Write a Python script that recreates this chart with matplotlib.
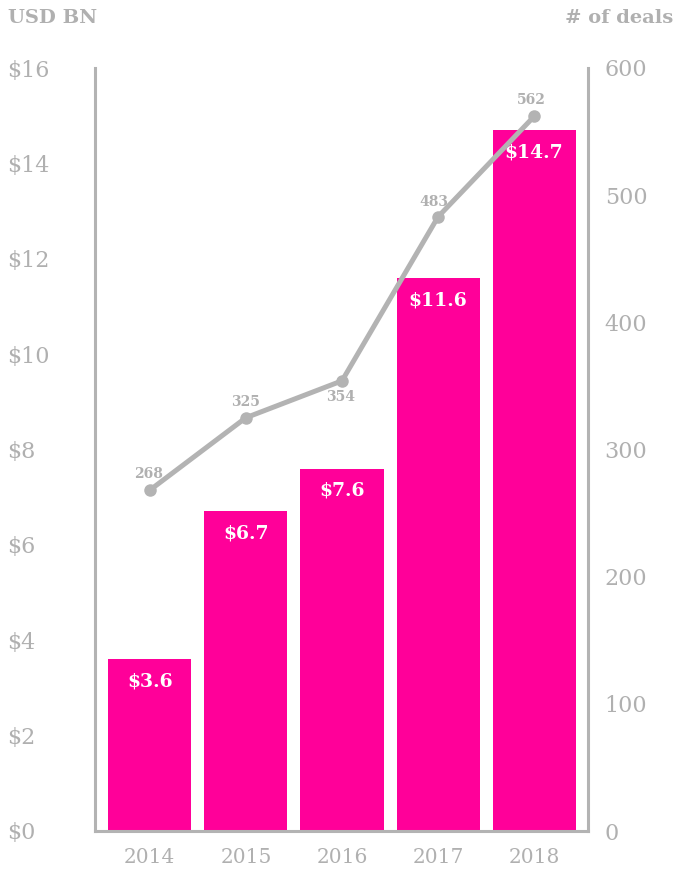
import matplotlib
matplotlib.use("Agg")
import matplotlib.pyplot as plt

years = ["2014", "2015", "2016", "2017", "2018"]
usd_bn = [3.6, 6.7, 7.6, 11.6, 14.7]
deals = [268, 325, 354, 483, 562]
usd_ticks = [0, 2, 4, 6, 8, 10, 12, 14, 16]
deal_ticks = [0, 100, 200, 300, 400, 500, 600]

pink = "#ff0099"
grey = "#b3b3b3"
txt = "#b0b0b0"
plt.rcParams["font.family"] = ["DejaVu Serif"]

fig = plt.figure(figsize=(6.75, 8.69), dpi=100)
ax = fig.add_axes([95 / 675, 1 - 831 / 869, 493 / 675, 763 / 869])
x = list(range(len(years)))

ax.bar(x, usd_bn, width=0.865, color=pink, zorder=1)
for xi, v in zip(x, usd_bn):
    ax.annotate(f"${v}", (xi, v), xytext=(0, -16), textcoords="offset points",
                ha="center", va="center", color="white", fontsize=13.5,
                fontweight="bold", zorder=5)

ax.set_xlim(-0.57, 4.56)
ax.set_ylim(0, 16)
ax.set_yticks(usd_ticks)
ax.set_yticklabels([f"${t}" for t in usd_ticks])
ax.set_xticks(x)
ax.set_xticklabels(years)
ax.tick_params(axis="y", length=0, pad=63, labelsize=16, labelcolor=txt)
ax.tick_params(axis="x", length=0, pad=12, labelsize=14.5, labelcolor=txt)
for lab in ax.get_yticklabels():
    lab.set_horizontalalignment("left")

for side in ["top", "right"]:
    ax.spines[side].set_visible(False)
for side in ["left", "bottom"]:
    ax.spines[side].set_color(grey)
    ax.spines[side].set_linewidth(2.2)

ax2 = ax.twinx()
ax2.plot(x, deals, color=grey, linewidth=3.6, marker="o", markersize=8,
         solid_capstyle="round", zorder=3)
ax2.set_ylim(0, 600)
ax2.set_yticks(deal_ticks)
ax2.tick_params(axis="y", length=0, pad=12, labelsize=16, labelcolor=txt)
for side in ["top", "left", "bottom"]:
    ax2.spines[side].set_visible(False)
ax2.spines["right"].set_color(grey)
ax2.spines["right"].set_linewidth(2.2)

# deal counts sit above the markers, except 2016 which goes below
offsets = [(-1, 12), (0, 11), (-1, -12), (-3, 11), (-2, 12)]
for xi, d, off in zip(x, deals, offsets):
    ax2.annotate(str(d), (xi, d), xytext=off, textcoords="offset points",
                 ha="center", va="center", color=txt, fontsize=10,
                 fontweight="bold")

fig.text(8 / 675, 1 - 18 / 869, "USD BN", ha="left", va="center",
         color=txt, fontsize=14, fontweight="bold")
fig.text(673 / 675, 1 - 18 / 869, "# of deals", ha="right", va="center",
         color=txt, fontsize=14, fontweight="bold")

fig.savefig("out.png", dpi=100)
